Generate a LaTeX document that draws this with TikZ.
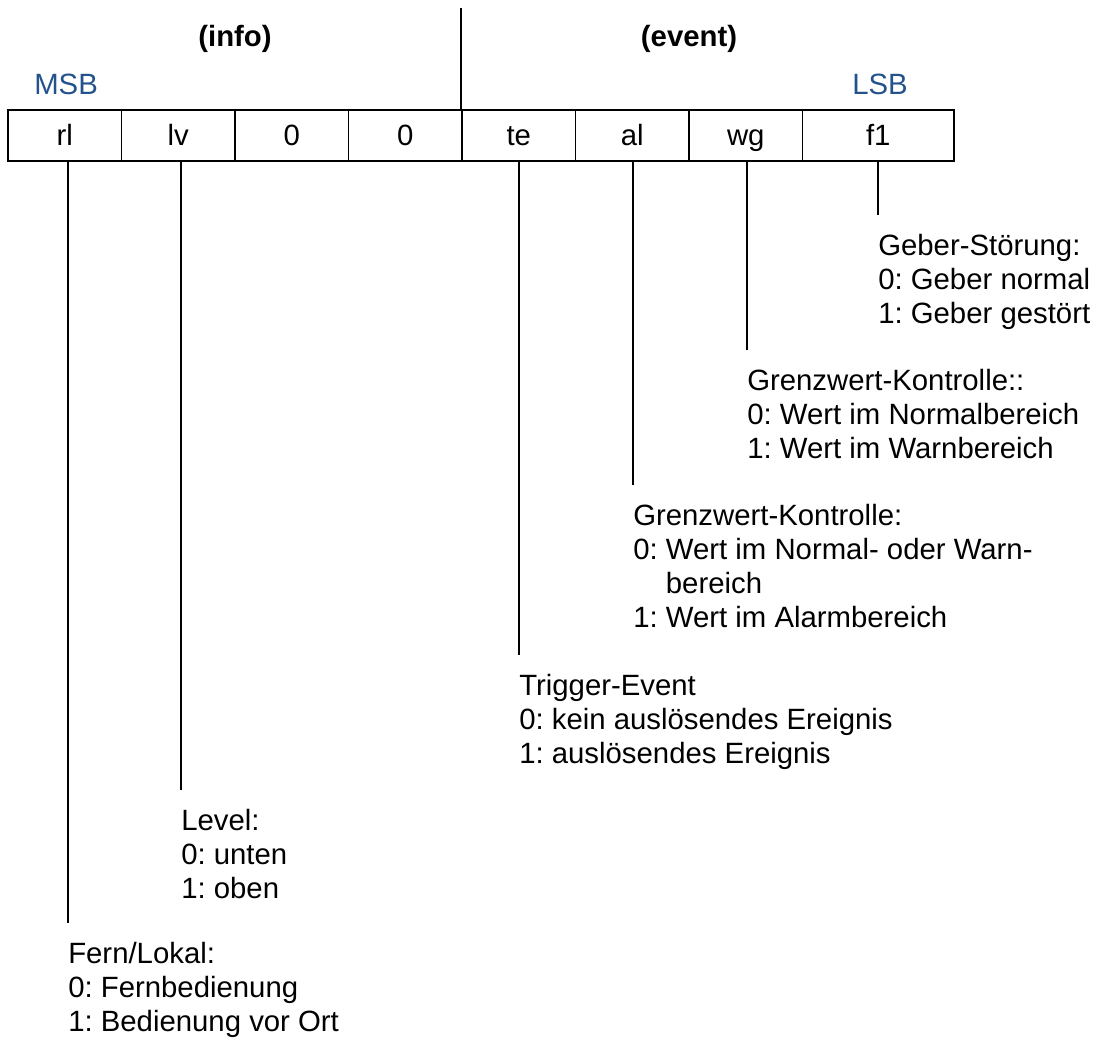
\documentclass[tikz,border=0pt]{standalone}
\usepackage{fontspec}
\setmainfont{Liberation Sans}
\frenchspacing
\definecolor{sbblue}{RGB}{36,82,140}
\begin{document}
\begin{tikzpicture}[x=0.75pt,y=-0.75pt,
  every node/.style={font=\fontsize{22}{25.5}\selectfont\frenchspacing, inner sep=0pt},
  bitcell/.style={draw, line width=1.4pt, minimum height=38.25pt, minimum width=85.1pt,
                  text height=15.75pt, text depth=0pt},
  widecell/.style={bitcell, minimum width=113.6pt},
  desc/.style={anchor=base west, align=left},
  lead/.style={line width=1pt},
  head/.style={anchor=base, font=\fontsize{22}{25.5}\selectfont\bfseries},
  sb/.style={anchor=base west, text=sbblue}]
\useasboundingbox (0,0) rectangle (1100,1038);

% group headings
\node[head] (info) at (235,47) {(info)};
\node[head] (event) at (689,47) {(event)};
\node[sb] (msb) at (34,95) {MSB};
\node[sb] (lsb) at (852,95) {LSB};

% the register, bit 7 (MSB) to bit 0 (LSB)
\node[bitcell] (rl) at (64.75,135.5) {rl};
\node[bitcell] (lv) at (178.25,135.5) {lv};
\node[bitcell] (za) at (291.75,135.5) {0};
\node[bitcell] (zb) at (405.25,135.5) {0};
\node[bitcell] (te) at (518.75,135.5) {te};
\node[bitcell] (al) at (632.25,135.5) {al};
\node[bitcell] (wg) at (745.75,135.5) {wg};
\node[widecell] (fe) at (878.25,135.5) {f1};

% separator between info and event halves
\coordinate (divtop) at (462,8);
\draw[lead] (te.north west) -- (te.north west |- divtop);

% bit descriptions (anchored at the baseline of their last line)
\node[desc] (dfe) at (878,323) {Geber-Störung:\\0: Geber normal\\1: Geber gestört};
\node[desc] (dwg) at (747,458) {Grenzwert-Kontrolle::\\0: Wert im Normalbereich\\1: Wert im Warnbereich};
\node[desc] (dal) at (633,627) {Grenzwert-Kontrolle:\\0: Wert im Normal- oder Warn-\\\hphantom{0:\ }bereich\\1: Wert im Alarmbereich};
\node[desc] (dte) at (519,763) {Trigger-Event\\0: kein auslösendes Ereignis\\1: auslösendes Ereignis};
\node[desc] (dlv) at (181,898) {Level:\\0: unten\\1: oben};
\node[desc] (drl) at (68,1031) {Fern/Lokal:\\0: Fernbedienung\\1: Bedienung vor Ort};

% leader lines from each bit to its description
\draw[lead] (fe.south -| dfe.west) -- ([yshift=13.5pt]dfe.north west);
\draw[lead] (wg.south -| dwg.west) -- ([yshift=13.5pt]dwg.north west);
\draw[lead] (al.south -| dal.west) -- ([yshift=13.5pt]dal.north west);
\draw[lead] (te.south -| dte.west) -- ([yshift=13.5pt]dte.north west);
\draw[lead] (lv.south -| dlv.west) -- ([yshift=13.5pt]dlv.north west);
\draw[lead] (rl.south -| drl.west) -- ([yshift=13.5pt]drl.north west);
\end{tikzpicture}
\end{document}
